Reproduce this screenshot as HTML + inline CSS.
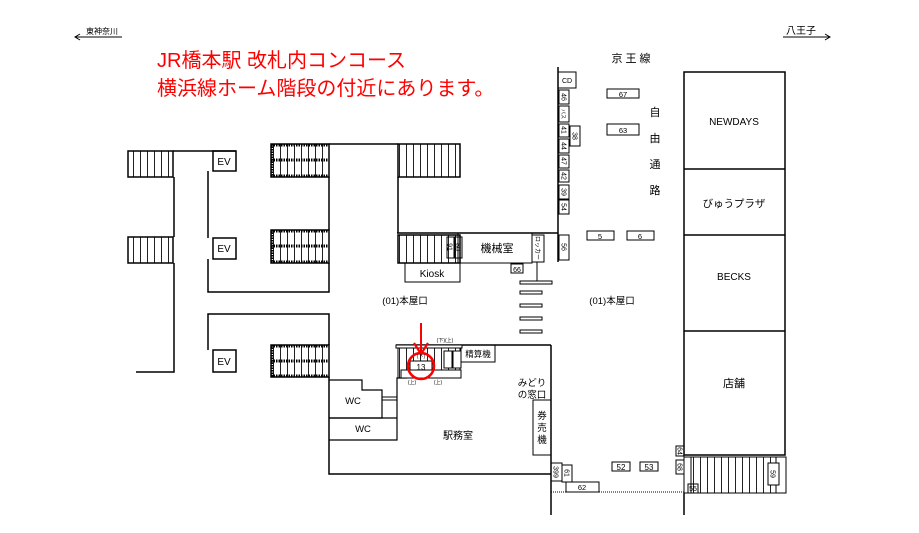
<!DOCTYPE html>
<html><head><meta charset="utf-8">
<style>
html,body{margin:0;padding:0;background:#fff;}
svg{display:block;}
text{font-family:"Liberation Sans","Noto Sans CJK JP",sans-serif;fill:#000;}
</style></head>
<body>
<svg width="919" height="533" viewBox="0 0 919 533" xmlns="http://www.w3.org/2000/svg">
<defs>
<pattern id="st" x="0" y="0" width="7" height="10" patternUnits="userSpaceOnUse">
<line x1="0.5" y1="0" x2="0.5" y2="10" stroke="#222" stroke-width="1"/>
</pattern>
</defs>
<g fill="none" stroke="#000" stroke-width="1.5">
<line x1="75" y1="37" x2="122" y2="37" stroke-width="1"/>
<polyline points="80,34 75,37 80,40" stroke-width="1"/>
<line x1="783" y1="37" x2="830" y2="37" stroke-width="1"/>
<polyline points="825,34 830,37 825,40" stroke-width="1"/>

<rect x="128" y="151" width="45" height="26" fill="url(#st)"/>
<rect x="128" y="237" width="45" height="26" fill="url(#st)"/>
<polyline points="173,151 236,151"/>
<polyline points="174,177 174,237"/>
<polyline points="174,263 174,372 136,372"/>
<rect x="213" y="151" width="23" height="20"/>
<rect x="213" y="238" width="23" height="21"/>
<rect x="213" y="350" width="23" height="22"/>
<polyline points="208,171 208,238"/>
<polyline points="208,259 208,292 329,292 329,263"/>
<polyline points="329,177 329,230"/>
<polyline points="208,350 208,314 329,314 329,345"/>
<rect x="271" y="144" width="58" height="33" fill="url(#st)"/>
<rect x="271" y="230" width="58" height="33" fill="url(#st)"/>
<rect x="271" y="345" width="58" height="32" fill="url(#st)"/>
<g stroke-dasharray="1.5 1" stroke-width="3">
<line x1="271" y1="145" x2="329" y2="145"/><line x1="271" y1="160" x2="329" y2="160"/><line x1="271" y1="176" x2="329" y2="176"/>
<line x1="271" y1="231" x2="329" y2="231"/><line x1="271" y1="246" x2="329" y2="246"/><line x1="271" y1="262" x2="329" y2="262"/>
<line x1="271" y1="346" x2="329" y2="346"/><line x1="271" y1="361" x2="329" y2="361"/><line x1="271" y1="376" x2="329" y2="376"/>
<line x1="272" y1="144" x2="272" y2="177"/><line x1="272" y1="230" x2="272" y2="263"/><line x1="272" y1="345" x2="272" y2="377"/>
</g>
<line x1="329" y1="144" x2="398" y2="144"/>

<rect x="398" y="144" width="62" height="33" fill="url(#st)"/>
<line x1="398" y1="177" x2="398" y2="233"/>
<line x1="397" y1="233" x2="558" y2="233"/>
<rect x="398" y="235" width="62" height="28" fill="url(#st)"/>
<rect x="458" y="233" width="74" height="30" stroke-width="1"/>
<rect x="405" y="263" width="55" height="19" stroke-width="1"/>
<rect x="447" y="237" width="7" height="21" stroke-width="1"/>
<rect x="455" y="237" width="7" height="21" stroke-width="1"/>
<rect x="532" y="235" width="12" height="27" stroke-width="1"/>
<rect x="511" y="264" width="12" height="9" stroke-width="1"/>
<polyline points="537,262 537,281" stroke-width="1"/>
<rect x="520" y="281" width="32" height="3" stroke-width="1"/>
<line x1="558" y1="67" x2="558" y2="262"/>
<g stroke-width="1">
<rect x="558" y="72" width="18" height="16"/>
<rect x="559" y="90" width="10" height="14"/>
<rect x="559" y="106" width="10" height="16"/>
<rect x="559" y="124" width="10" height="13"/>
<rect x="570" y="126" width="10" height="20"/>
<rect x="559" y="139" width="10" height="14"/>
<rect x="559" y="155" width="10" height="13"/>
<rect x="559" y="170" width="10" height="12"/>
<rect x="559" y="185" width="10" height="14"/>
<rect x="559" y="200" width="10" height="14"/>
<rect x="559" y="235" width="10" height="25"/>
<rect x="607" y="89" width="32" height="9"/>
<rect x="607" y="124" width="32" height="11"/>
<rect x="587" y="231" width="27" height="9"/>
<rect x="627" y="231" width="27" height="9"/>
</g>
<g stroke-width="1">
<rect x="520" y="291" width="22" height="3"/>
<rect x="520" y="304" width="22" height="3"/>
<rect x="520" y="317" width="22" height="3"/>
<rect x="520" y="330" width="22" height="3"/>
</g>

<rect x="684" y="72" width="101" height="383"/>
<line x1="684" y1="169" x2="785" y2="169"/>
<line x1="684" y1="235" x2="785" y2="235"/>
<line x1="684" y1="331" x2="785" y2="331"/>
<rect x="684" y="457" width="102" height="36" stroke-width="1"/>
<rect x="691" y="457" width="85" height="36" fill="url(#st)" stroke-width="1"/>
<g stroke-width="1">
<rect x="768" y="463" width="11" height="22" fill="#fff"/>
<rect x="676" y="446" width="8" height="10"/>
<rect x="676" y="460" width="8" height="14"/>
<rect x="688" y="484" width="10" height="9"/>
<rect x="612" y="462" width="18" height="9"/>
<rect x="640" y="462" width="18" height="9"/>
<rect x="551" y="463" width="11" height="18"/>
<rect x="562" y="465" width="10" height="17"/>
<rect x="566" y="482" width="33" height="10"/>
</g>
<line x1="551" y1="492" x2="684" y2="492" stroke-width="1" stroke-dasharray="1 1"/>
<line x1="684" y1="493" x2="684" y2="515"/>
<line x1="551" y1="345" x2="551" y2="515"/>

<polyline points="396,345 551,345"/>
<polyline points="329,377 329,474 551,474"/>
<polyline points="329,380 362,380 362,390 382,390 382,418 329,418" stroke-width="1.2"/>
<polyline points="329,418 397,418" stroke-width="1.2"/>
<polyline points="329,440 397,440 397,378 407,378" stroke-width="1.2"/>
<g stroke-width="1">
<line x1="382" y1="397" x2="397" y2="397"/><line x1="382" y1="400" x2="397" y2="400"/>
<rect x="461" y="345" width="34" height="17"/>
<rect x="533" y="400" width="18" height="55"/>
<rect x="398" y="345" width="62" height="33" fill="url(#st)"/>
<rect x="396" y="345" width="66" height="3" fill="#fff"/>
<rect x="410" y="361" width="22" height="10" fill="#fff"/>
<rect x="444" y="351" width="8" height="17" fill="#fff"/>
<rect x="453" y="351" width="8" height="17" fill="#fff"/>
<rect x="401" y="370" width="60" height="8" fill="#fff"/>
</g>
</g>

<circle cx="421" cy="366" r="13" fill="none" stroke="#f00" stroke-width="2.5"/>
<line x1="421" y1="323" x2="421" y2="352" stroke="#f00" stroke-width="2"/>
<polyline points="414,343 421,354 428,343" fill="none" stroke="#f00" stroke-width="2.2"/>

<text x="86" y="34" font-size="8">東神奈川</text>
<text x="786" y="34" font-size="10">八王子</text>
<text x="157" y="67" font-size="20" style="fill:#f00">JR橋本駅 改札内コンコース</text>
<text x="157" y="95" font-size="20" style="fill:#f00">横浜線ホーム階段の付近にあります。</text>
<g font-size="10" text-anchor="middle">
<text x="224" y="165">EV</text><text x="224" y="252">EV</text><text x="224" y="365">EV</text>
<text x="432" y="277">Kiosk</text>
<text x="497" y="252" font-size="11">機械室</text>
<text x="405" y="304" font-size="9.5">(01)本屋口</text>
<text x="612" y="304" font-size="9.5">(01)本屋口</text>
<text x="631" y="62" font-size="11">京 王 線</text>
<text x="655" y="116" font-size="11">自</text>
<text x="655" y="142" font-size="11">由</text>
<text x="655" y="168" font-size="11">通</text>
<text x="655" y="194" font-size="11">路</text>
<text x="567" y="83" font-size="7">CD</text>
<text x="623" y="97" font-size="7.5">67</text>
<text x="623" y="133" font-size="7.5">63</text>
<text x="600" y="239" font-size="7.5">5</text>
<text x="640" y="239" font-size="7.5">6</text>
<text x="517" y="272" font-size="7">66</text>
<text x="734" y="125" font-size="10">NEWDAYS</text>
<text x="734" y="207" font-size="10.5">びゅうプラザ</text>
<text x="734" y="280" font-size="10">BECKS</text>
<text x="734" y="387" font-size="11">店舗</text>
<text x="353" y="404" font-size="9.5">WC</text>
<text x="363" y="432" font-size="9.5">WC</text>
<text x="458" y="439" font-size="10">駅務室</text>
<text x="478" y="357" font-size="8.5">精算機</text>
<text x="532" y="386" font-size="9.5">みどり</text>
<text x="532" y="398" font-size="9.5">の窓口</text>
<text x="542" y="419" font-size="9.5">券</text>
<text x="542" y="431" font-size="9.5">売</text>
<text x="542" y="443" font-size="9.5">機</text>
<text x="421" y="370" font-size="8">13</text>
<text x="621" y="470" font-size="8">52</text>
<text x="649" y="470" font-size="8">53</text>
<text x="582" y="490" font-size="7.5">62</text>
</g>
<g font-size="7" text-anchor="middle">
<text transform="translate(564,97) rotate(90)" dy="2.5">46</text>
<text transform="translate(564,130) rotate(90)" dy="2.5">41</text>
<text transform="translate(575,136) rotate(90)" dy="2.5">38</text>
<text transform="translate(564,146) rotate(90)" dy="2.5">44</text>
<text transform="translate(564,161) rotate(90)" dy="2.5">47</text>
<text transform="translate(564,176) rotate(90)" dy="2.5">42</text>
<text transform="translate(564,192) rotate(90)" dy="2.5">39</text>
<text transform="translate(564,207) rotate(90)" dy="2.5">54</text>
<text transform="translate(564,247) rotate(90)" dy="2.5">56</text>
<text transform="translate(564,114) rotate(90)" dy="2.5" font-size="5">バス</text>
<text transform="translate(450,247) rotate(90)" dy="2.5">91</text>
<text transform="translate(458,247) rotate(90)" dy="2.5">60</text>
<text transform="translate(538,248) rotate(90)" dy="2.5" font-size="6">ロッカー</text>
<text transform="translate(556,472) rotate(90)" dy="2.5">399</text>
<text transform="translate(567,473) rotate(90)" dy="2.5">61</text>
<text transform="translate(680,451) rotate(90)" dy="2.5">64</text>
<text transform="translate(680,467) rotate(90)" dy="2.5">68</text>
<text transform="translate(773,474) rotate(90)" dy="2.5">59</text>
<text x="693" y="491" font-size="7">55</text>
</g>
<g font-size="5" fill="#555" text-anchor="middle">
<text x="445" y="342">(下)(上)</text>
<text x="412" y="384">(上)</text>
<text x="438" y="384">(上)</text>
<text x="421" y="358">(下)</text>
</g>
</svg>
</body></html>
